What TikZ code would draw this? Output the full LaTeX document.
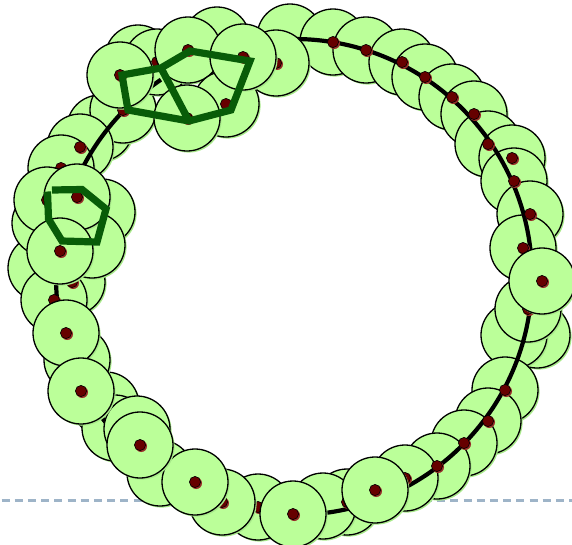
\documentclass[tikz,border=0pt]{standalone}
\definecolor{cfill}{RGB}{187,255,153}
\definecolor{cshad}{RGB}{168,234,138}
\definecolor{dfill}{RGB}{102,0,0}
\definecolor{dshad}{RGB}{150,45,40}
\definecolor{pgreen}{RGB}{8,92,8}
\definecolor{dashc}{RGB}{158,180,200}
\tikzset{
  pringshadow/.style={fill=cshad},
  pring/.style={fill=cfill,draw=black,line width=1.3pt},
  pseedshadow/.style={fill=dshad},
  pseed/.style={fill=dfill,draw=black,line width=0.6pt},
  ptrack/.style={draw=black,line width=4.2pt},
  ppoly/.style={draw=pgreen,line width=7.2pt,line join=miter},
  pguide/.style={draw=dashc,line width=2.2pt,dash pattern=on 8pt off 5.2pt}
}
\newcommand{\ringAt}[2]{\fill[pringshadow] (#1+1.6,#2+1.6) circle (33); \draw[pring] (#1,#2) circle (33);}
\newcommand{\seedAt}[2]{\fill[pseedshadow] (#1+1.2,#2+1.2) circle (5.8); \draw[pseed] (#1,#2) circle (5.6);}
\begin{document}
\begin{tikzpicture}[x=1pt,y=-1pt]
\useasboundingbox (0,0) rectangle (572,544);
\fill[white] (0,0) rectangle (572,544);
% dashed guide line
\draw[pguide] (1.5,500.5) -- (572,500.5);
% circles below the track (x/y/seed visible)
\foreach \x/\y in {100/128,123/110,80/147,61/168,138/58,157/62,290/37,333/42,366/50,402/62,425/77,452/97,474/114,488/144,512/158,514/181,530/214,523/248,537/335,514/335,528/309,505/390,488/421,464/443,437/466,405/478,347/502,323/506,41/268,72/282,54/300,106/405,115/428}
  {\ringAt{\x}{\y}}
% track
\draw[ptrack] (294,277) ++(-91:238) arc[start angle=-91,end angle=236,radius=238];
\foreach \x/\y in {123/110,80/147,61/168,157/62,333/42,366/50,402/62,425/77,452/97,474/114,488/144,512/158,514/181,530/214,523/248,528/309,505/390,488/421,464/443,437/466,405/478,347/502,72/282,54/300}
  {\seedAt{\x}{\y}}
% circles above the track
\foreach \x/\y/\s in {276/63/1,217/40/0,188/50/1,226/104/1,243/57/1,187/118/1,120/75/1,542/281/1,375/490/1,258/507/1,222/502/1,293/514/1,160/473/0,195/482/1,137/429/0,140/445/1,77/360/0,66/333/1,81/391/1,45/223/0,102/212/0,92/245/0,47/200/1,77/197/1,60/251/1}
  {\ringAt{\x}{\y}\ifnum\s=1 \seedAt{\x}{\y}\fi}
% polygons
\draw[ppoly] (122,75) -- (161,68) -- (190,51) -- (250,61) -- (231,110) -- (189,121) -- (128,110) -- cycle;
\draw[ppoly] (161,68) -- (189,121);
\draw[ppoly,line cap=butt] (52,190) -- (82,189.5) -- (106,209) -- (97,242) -- (62,241) -- (48.5,219) -- (47.5,191.5);
\end{tikzpicture}
\end{document}
